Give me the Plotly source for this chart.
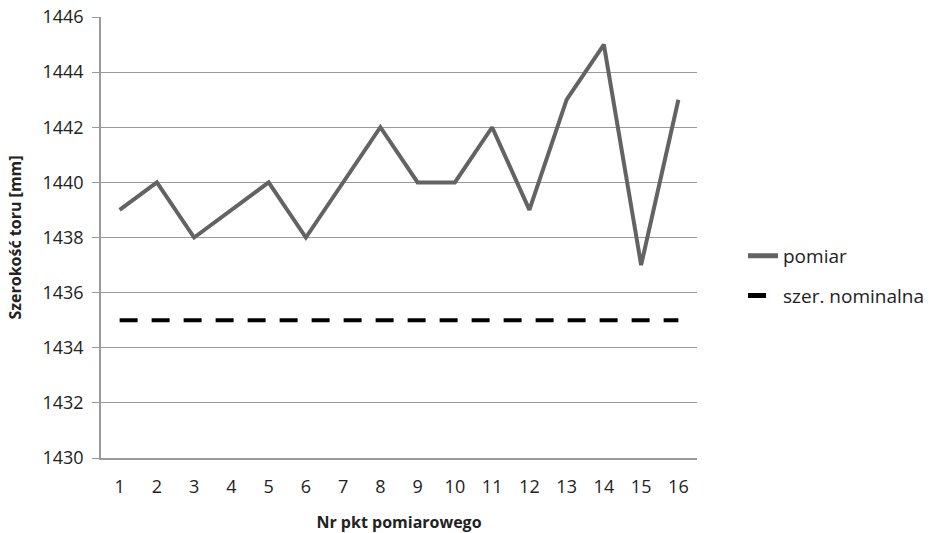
import plotly.graph_objects as go

# Measurement points and track gauge readings
punkty = [str(i) for i in range(1, 17)]
pomiar = [1439, 1440, 1438, 1439, 1440, 1438, 1440, 1442, 1440, 1440, 1442, 1439, 1443, 1445, 1437, 1443]
nominalna = [1435] * 16

y_ticks = [1430, 1432, 1434, 1436, 1438, 1440, 1442, 1444, 1446]

font_family = "Open Sans, Liberation Sans, sans-serif"

fig = go.Figure()
fig.add_trace(go.Scatter(
    x=punkty, y=pomiar, mode="lines", name="pomiar", legendgroup="a",
    line=dict(color="#636363", width=4),
))
fig.add_trace(go.Scatter(
    x=punkty, y=nominalna, mode="lines", name="szer. nominalna", legendgroup="b",
    line=dict(color="#000000", width=4, dash="18px,14px"),
))

fig.update_layout(
    width=944, height=533,
    margin=dict(l=101, r=247, t=17, b=75),
    paper_bgcolor="white", plot_bgcolor="white",
    font=dict(family=font_family, size=18, color="#222222"),
    showlegend=True,
    legend=dict(
        x=(743 - 101) / 596, y=0.413, xanchor="left", yanchor="middle",
        font=dict(size=19, color="#222222"),
        tracegroupgap=12, itemsizing="constant",
        bgcolor="rgba(0,0,0,0)",
    ),
    xaxis=dict(
        type="category", automargin=False,
        title=dict(text="<b>Nr pkt pomiarowego</b>", font=dict(size=16), standoff=44),
        showgrid=False,
        showline=True, linecolor="#9a9a9a", linewidth=1.5,
        ticks="", tickfont=dict(size=18), ticklabelstandoff=12,
        range=[-0.5, 15.5],
    ),
    yaxis=dict(
        automargin=False,
        title=dict(text="<b>Szerokość toru [mm]</b>", font=dict(size=16), standoff=17),
        range=[1430, 1446], tickvals=y_ticks,
        showgrid=True, gridcolor="#9a9a9a", gridwidth=1.2,
        showline=True, linecolor="#9a9a9a", linewidth=1.5,
        ticks="outside", ticklen=7, tickcolor="#9a9a9a",
        tickfont=dict(size=18), ticklabelstandoff=5, zeroline=False,
    ),
)

fig.write_html("out.html")
